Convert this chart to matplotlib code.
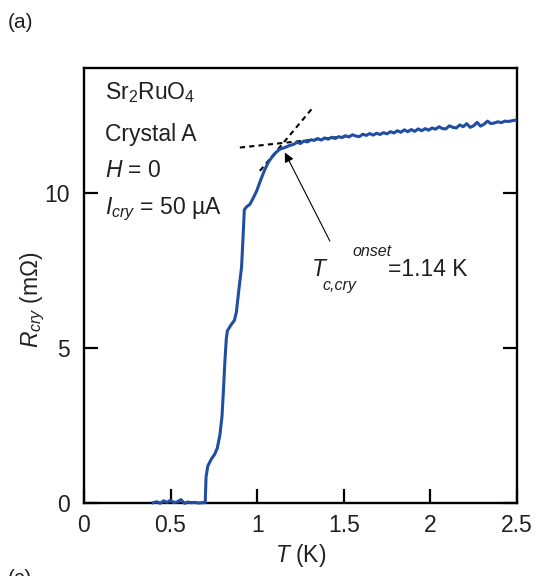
import matplotlib
matplotlib.use('Agg')
import matplotlib.pyplot as plt

plt.rcParams['font.family'] = ['Liberation Sans', 'DejaVu Sans']
plt.rcParams['mathtext.fontset'] = 'custom'
plt.rcParams['mathtext.rm'] = 'Liberation Sans'
plt.rcParams['mathtext.it'] = 'Liberation Sans:italic'

TXT = '#231f20'
BLUE = '#1f4ea3'

# R(T) curve, crystal A
T = [0.40, 0.42, 0.44, 0.46, 0.48, 0.50, 0.52, 0.54, 0.56, 0.58, 0.60, 0.62,
     0.64, 0.66, 0.68, 0.695,
     0.700, 0.705, 0.715, 0.735, 0.755, 0.770, 0.785, 0.797, 0.805, 0.814,
     0.822, 0.828, 0.850, 0.868, 0.880, 0.895, 0.910, 0.918, 0.926, 0.940,
     0.958, 0.975, 0.997, 1.020, 1.045, 1.065, 1.084, 1.110, 1.132, 1.160,
     1.189,
     1.21, 1.23, 1.25, 1.27, 1.29, 1.31, 1.33, 1.35, 1.37, 1.39, 1.41, 1.43,
     1.45, 1.47, 1.49, 1.51, 1.53, 1.55, 1.57, 1.59, 1.61, 1.63, 1.65, 1.67,
     1.69, 1.71, 1.73, 1.75, 1.77, 1.79, 1.81, 1.83, 1.85, 1.87, 1.89, 1.91,
     1.93, 1.95, 1.97, 1.99, 2.01, 2.03, 2.05, 2.07, 2.09, 2.11, 2.13, 2.15,
     2.17, 2.19, 2.21, 2.23, 2.25, 2.27, 2.29, 2.31, 2.33, 2.35, 2.37, 2.39,
     2.41, 2.43, 2.45, 2.47, 2.49]
R = [0.02, 0.05, 0.00, 0.08, 0.03, 0.10, 0.02, 0.05, 0.12, 0.00, 0.04, 0.02,
     0.03, 0.01, 0.02, 0.02,
     0.02, 0.85, 1.20, 1.42, 1.58, 1.78, 2.20, 2.80, 3.60, 4.60,
     5.30, 5.55, 5.75, 5.88, 6.15, 6.90, 7.60, 8.50, 9.45, 9.55,
     9.62, 9.80, 10.05, 10.40, 10.75, 10.98, 11.13, 11.30, 11.40, 11.45,
     11.52,
     11.55, 11.62, 11.58, 11.66, 11.63, 11.70, 11.68, 11.74, 11.69, 11.76, 11.72, 11.78,
     11.74, 11.80, 11.77, 11.83, 11.79, 11.86, 11.82, 11.80, 11.88, 11.84, 11.90, 11.85,
     11.91, 11.87, 11.93, 11.89, 11.96, 11.92, 11.99, 11.94, 12.02, 11.96, 12.03, 11.97,
     12.05, 11.99, 12.06, 12.01, 12.08, 12.04, 12.12, 12.06, 12.05, 12.15, 12.10, 12.08,
     12.18, 12.12, 12.22, 12.10, 12.15, 12.26, 12.14, 12.20, 12.30, 12.22, 12.24, 12.28,
     12.25, 12.30, 12.29, 12.31, 12.33]

# linear fits used for the onset
fit_normal_T = [0.90, 1.54]
fit_normal_R = [11.45, 11.83]
fit_trans_T = [1.016, 1.315]
fit_trans_R = [10.70, 12.69]

xticks = [0, 0.5, 1, 1.5, 2, 2.5]
xticklabels = ['0', '0.5', '1', '1.5', '2', '2.5']
yticks = [0, 5, 10]

fig = plt.figure(figsize=(5.39, 5.76), dpi=100)
ax = fig.add_axes([0.1558, 0.1262, 0.8032, 0.7552])

ax.plot(T, R, color=BLUE, lw=2.2, zorder=3, clip_on=False)
ax.plot(fit_normal_T, fit_normal_R, color='k', lw=1.5, ls=(0, (2.5, 2)))
ax.plot(fit_trans_T, fit_trans_R, color='k', lw=1.5, ls=(0, (2.5, 2)))

ax.annotate('', xy=(1.16, 11.29), xytext=(1.42, 8.44),
            arrowprops=dict(arrowstyle='-|>', lw=0.8, color='k',
                            mutation_scale=14, shrinkA=0, shrinkB=0))

ax.set_xlim(0, 2.5)
ax.set_ylim(0, 14)
ax.set_xticks(xticks)
ax.set_xticklabels(xticklabels)
ax.set_yticks(yticks)
ax.tick_params(direction='in', length=10, width=1.6, labelsize=16.5,
               colors='k', labelcolor=TXT, pad=8)
ax.tick_params(axis='y', right=True, pad=10)
for s in ax.spines.values():
    s.set_linewidth(1.7)

ax.set_xlabel('$T$ (K)', fontsize=16.5, color=TXT)
ax.xaxis.set_label_coords(0.5, -0.09)
ax.set_ylabel('$R_{cry}$ (m\u03a9)', fontsize=16.5, color=TXT)
ax.yaxis.set_label_coords(-0.085, 0.468)

fs = 16.5
ax.text(0.121, 13.0, 'Sr$_2$RuO$_4$', fontsize=fs, color=TXT, va='baseline')
ax.text(0.121, 11.66, 'Crystal A', fontsize=fs, color=TXT, va='baseline')
ax.text(0.121, 10.49, '$H$ = 0', fontsize=fs, color=TXT, va='baseline')
ax.text(0.121, 9.30, '$I_{cry}$ = 50 \u00b5A', fontsize=fs, color=TXT, va='baseline')

ax.text(1.315, 7.31, 'T', fontsize=fs, style='italic', color=TXT, va='baseline')
ax.text(1.380, 6.88, 'c,cry', fontsize=11.5, style='italic', color=TXT, va='baseline')
ax.text(1.551, 7.95, 'onset', fontsize=11.5, style='italic', color=TXT, va='baseline')
ax.text(1.755, 7.31, '=1.14 K', fontsize=fs, color=TXT, va='baseline')

fig.text(8 / 539, 1 - 28 / 576, '(a)', fontsize=15, color=TXT, va='baseline')
fig.text(8 / 539, 1 - 569 / 576, '(c)', fontsize=15, color=TXT, va='top')

fig.savefig('out.png', dpi=100)
plt.close(fig)
